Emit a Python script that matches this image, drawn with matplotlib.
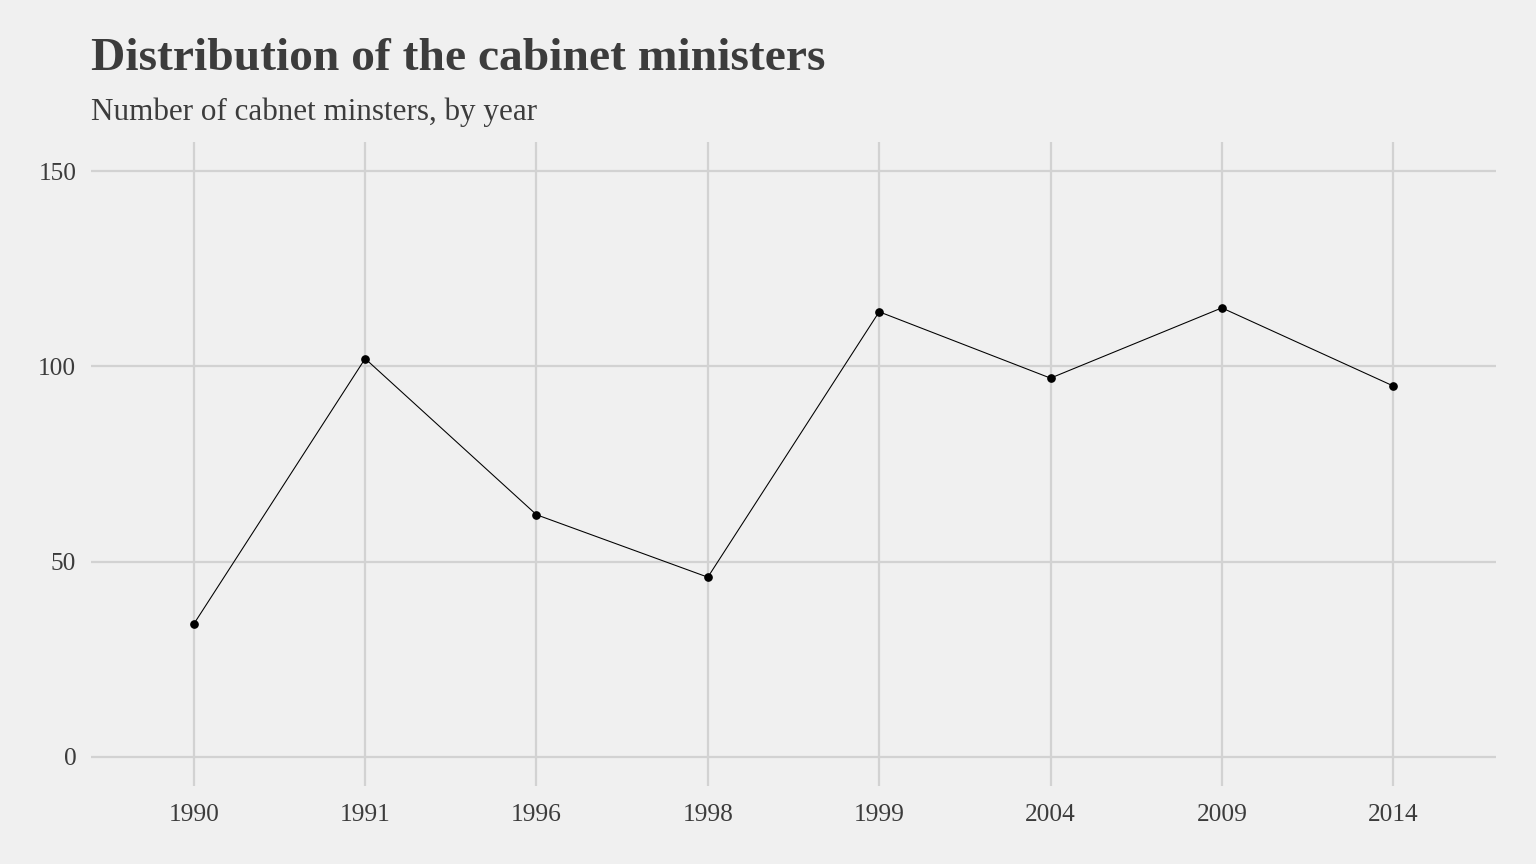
import matplotlib
matplotlib.use('Agg')
import matplotlib.pyplot as plt

# values
years = ['1990', '1991', '1996', '1998', '1999', '2004', '2009', '2014']
ministers = [34, 102, 62, 46, 114, 97, 115, 95]

bg = '#F0F0F0'
grid = '#D2D2D2'
txt = '#3C3C3C'

plt.rcParams['font.family'] = ['Liberation Serif', 'DejaVu Serif']

fig = plt.figure(figsize=(16, 9), dpi=96, facecolor=bg)
ax = fig.add_axes([91 / 1536, 1 - 786 / 864, (1496 - 91) / 1536, (786 - 142) / 864])
ax.set_facecolor(bg)

x = list(range(1, len(years) + 1))
ax.plot(x, ministers, color='black', lw=0.8, zorder=3)
ax.scatter(x, ministers, color='black', s=30, zorder=4)

ax.set_xlim(0.4, 8.6)
ax.set_ylim(-7.5, 157.5)
ax.set_xticks(x)
ax.set_xticklabels(years)
ax.set_yticks([0, 50, 100, 150])

ax.grid(True, color=grid, lw=1.7)
ax.set_axisbelow(True)
for s in ax.spines.values():
    s.set_visible(False)
ax.tick_params(length=0, labelsize=19, labelcolor=txt)
ax.tick_params(axis='x', pad=13.5)
ax.tick_params(axis='y', pad=11)

fig.text(91 / 1536, 1 - 59 / 864, 'Distribution of the cabinet ministers',
         fontsize=35.6, fontweight='bold', color=txt, va='center', ha='left')
fig.text(91 / 1536, 1 - 112 / 864, 'Number of cabnet minsters, by year',
         fontsize=23.3, color=txt, va='center', ha='left')

fig.savefig('out.png', dpi=96, facecolor=bg)
